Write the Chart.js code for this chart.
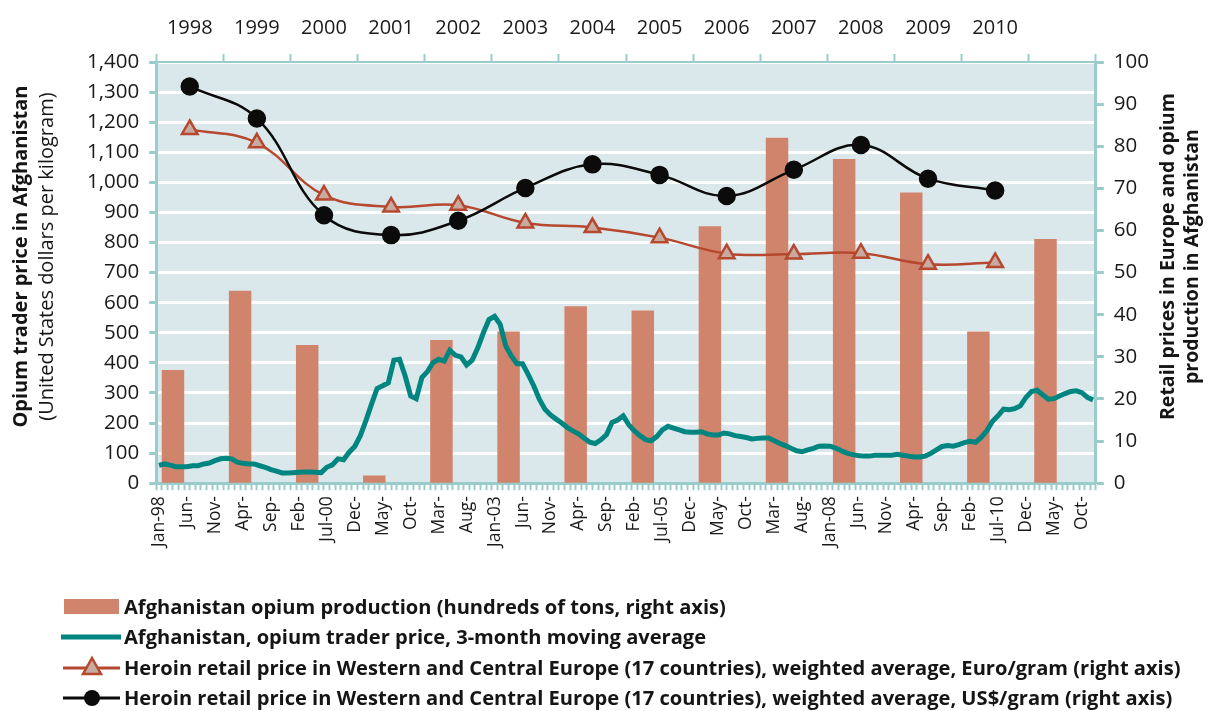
<!DOCTYPE html>
<html>
<head>
<meta charset="utf-8">
<script src="https://cdn.jsdelivr.net/npm/chart.js@4.4.1/dist/chart.umd.min.js"></script>
<style>
  html, body { margin: 0; padding: 0; background: #fff; }
  #wrap { position: relative; width: 1209px; height: 711px; }
  #legend { position: absolute; left: 60px; top: 591px; font: bold 20.1px "Open Sans", sans-serif; color: #151515; }
  .row { display: flex; align-items: center; height: 30.5px; white-space: nowrap; }
  .row svg { width: 62px; height: 26px; margin-right: 2px; flex: none; }
</style>
</head>
<body>
<div id="wrap">
  <canvas id="chart" width="1209" height="711"></canvas>
  <div id="legend">
    <div class="row"><svg viewBox="0 0 62 26"><rect x="4" y="6" width="55" height="15" fill="#d0846c"/></svg>Afghanistan opium production (hundreds of tons, right axis)</div>
    <div class="row"><svg viewBox="0 0 62 26"><line x1="1" y1="13" x2="61" y2="13" stroke="#008580" stroke-width="5"/></svg>Afghanistan, opium trader price, 3-month moving average</div>
    <div class="row"><svg viewBox="0 0 62 26"><line x1="3" y1="14" x2="60" y2="14" stroke="#b5482f" stroke-width="3"/><polygon points="32,4 41,20 23,20" fill="#c9aa9f" stroke="#b5482f" stroke-width="2.5"/></svg>Heroin retail price in Western and Central Europe (17 countries), weighted average, Euro/gram (right axis)</div>
    <div class="row"><svg viewBox="0 0 62 26"><line x1="3" y1="13" x2="60" y2="13" stroke="#0b0b0b" stroke-width="3"/><circle cx="32" cy="13" r="8" fill="#0b0b0b"/></svg>Heroin retail price in Western and Central Europe (17 countries), weighted average, US$/gram (right axis)</div>
  </div>
</div>
<script>
// yearly series (right axis)
const years = ['1998', '1999', '2000', '2001', '2002', '2003', '2004', '2005', '2006', '2007', '2008', '2009', '2010', '2011'];
const yearTickLabels = ['1998', '1999', '2000', '2001', '2002', '2003', '2004', '2005', '2006', '2007', '2008', '2009', '2010', ''];
const productionHundredTons = [26.9, 45.7, 32.8, 1.85, 34.0, 36.0, 42.0, 41.0, 61.0, 82.0, 77.0, 69.0, 36.0, 58.0];
const heroinEuroPerGram = [84.0, 80.8, 68.4, 65.6, 66.0, 61.8, 60.7, 58.3, 54.5, 54.4, 54.6, 52.0, 52.4, null];
const heroinUsdPerGram = [94.2, 86.6, 63.6, 58.9, 62.3, 70.1, 75.7, 73.2, 68.2, 74.4, 80.3, 72.3, 69.5, null];

// monthly trader price, Jan-98 .. Dec-11 (left axis)
const traderPrice = [
  59, 64, 60, 55, 55, 55, 58, 58, 64, 67, 75, 81,
  83, 81, 70, 66, 64, 64, 58, 53, 45, 40, 34, 34,
  35, 36, 37, 37, 36, 35, 53, 61, 81, 78, 103, 122,
  158, 208, 263, 315, 324, 334, 409, 412, 357, 290, 281, 351,
  371, 401, 412, 406, 442, 425, 420, 393, 409, 450, 500, 544,
  555, 528, 456, 423, 397, 397, 362, 324, 279, 246, 227, 213,
  200, 185, 174, 164, 150, 136, 132, 144, 161, 202, 210, 224,
  194, 174, 158, 145, 141, 155, 177, 189, 183, 177, 171, 169,
  169, 171, 164, 160, 160, 167, 164, 158, 155, 152, 147, 149,
  150, 150, 141, 132, 125, 116, 108, 105, 111, 116, 123, 124,
  123, 117, 108, 100, 95, 92, 90, 90, 93, 93, 93, 93,
  96, 93, 90, 87, 87, 90, 99, 111, 122, 125, 123, 128,
  135, 139, 136, 152, 174, 205, 224, 246, 244, 248, 257, 285,
  305, 309, 294, 279, 281, 290, 298, 305, 307, 301, 285, 277
];

// every 5th month is labelled
const monthTickLabels = ['Jan-98', 'Jun-', 'Nov-', 'Apr-', 'Sep-', 'Feb-', 'Jul-00', 'Dec-', 'May-', 'Oct-',
  'Mar-', 'Aug-', 'Jan-03', 'Jun-', 'Nov-', 'Apr-', 'Sep-', 'Feb-', 'Jul-05', 'Dec-', 'May-', 'Oct-',
  'Mar-', 'Aug-', 'Jan-08', 'Jun-', 'Nov-', 'Apr-', 'Sep-', 'Feb-', 'Jul-10', 'Dec-', 'May-', 'Oct-'];

const monthNames = ['Jan', 'Feb', 'Mar', 'Apr', 'May', 'Jun', 'Jul', 'Aug', 'Sep', 'Oct', 'Nov', 'Dec'];
const months = [];
years.forEach(y => monthNames.forEach(m => months.push(m + '-' + y.slice(2))));

const axisTeal = '#9acccc';

const plotBackground = {
    id: 'plotBackground',
    beforeDraw(chart) {
        const { ctx, chartArea: a } = chart;
        ctx.save();
        ctx.fillStyle = '#dae8eb';
        ctx.fillRect(a.left, a.top, a.width, a.height);
        ctx.restore();
    }
};

// left title mixes bold and regular, so both sides are drawn here
const axisTitles = {
    id: 'axisTitles',
    afterDraw(chart) {
        const { ctx, chartArea: a } = chart;
        const cy = (a.top + a.bottom) / 2 - 16;
        const put = (text, x, font) => {
            ctx.save();
            ctx.translate(x, cy);
            ctx.rotate(-Math.PI / 2);
            ctx.font = font;
            ctx.fillStyle = '#151515';
            ctx.textAlign = 'center';
            ctx.textBaseline = 'middle';
            ctx.fillText(text, 0, 0);
            ctx.restore();
        };
        put('Opium trader price in Afghanistan', 21, 'bold 20px "Open Sans"');
        put('(United States dollars per kilogram)', 47, '20px "Open Sans"');
        put('Retail prices in Europe and opium', chart.width - 41, 'bold 19.5px "Open Sans"');
        put('production in Afghanistan', chart.width - 17, 'bold 19.5px "Open Sans"');
    }
};

Chart.defaults.font.family = '"Open Sans", sans-serif';
Chart.defaults.color = '#1a1a1a';

new Chart(document.getElementById('chart').getContext('2d'), {
    type: 'bar',
    data: {
        datasets: [
            {
                type: 'line',
                label: 'Heroin retail price, US$/gram',
                data: heroinUsdPerGram,
                xAxisID: 'xYear',
                yAxisID: 'yR',
                borderColor: '#0b0b0b',
                borderWidth: 2.5,
                pointRadius: 8,
                pointBackgroundColor: '#0b0b0b',
                pointBorderColor: '#0b0b0b',
                tension: 0.4,
                order: 1
            },
            {
                type: 'line',
                label: 'Heroin retail price, Euro/gram',
                data: heroinEuroPerGram,
                xAxisID: 'xYear',
                yAxisID: 'yR',
                borderColor: '#b5482f',
                borderWidth: 2.5,
                pointStyle: 'triangle',
                pointRadius: 9,
                pointBackgroundColor: '#c9aa9f',
                pointBorderColor: '#b5482f',
                pointBorderWidth: 2.5,
                tension: 0.4,
                order: 2
            },
            {
                type: 'line',
                label: 'Opium trader price',
                data: traderPrice,
                xAxisID: 'x',
                yAxisID: 'yL',
                borderColor: '#008580',
                borderWidth: 5,
                pointRadius: 0,
                tension: 0,
                order: 3
            },
            {
                type: 'bar',
                label: 'Opium production',
                data: productionHundredTons,
                xAxisID: 'xYear',
                yAxisID: 'yR',
                backgroundColor: '#d0846c',
                barPercentage: 0.67,
                categoryPercentage: 1,
                order: 4
            }
        ]
    },
    options: {
        responsive: false,
        animation: false,
        layout: { padding: { left: 77, right: 50, top: 2, bottom: 158 } },
        plugins: { legend: { display: false }, tooltip: { enabled: false } },
        scales: {
            x: {
                type: 'category',
                labels: months,
                position: 'bottom',
                offset: true,
                grid: { offset: true, drawOnChartArea: false, tickLength: 7, tickColor: axisTeal, tickWidth: 2 },
                border: { color: axisTeal, width: 3 },
                ticks: {
                    autoSkip: false, minRotation: 90, maxRotation: 90, padding: 6,
                    font: { size: 17.5 },
                    callback: (v, i) => (i % 5 === 0 ? monthTickLabels[i / 5] : '')
                }
            },
            xYear: {
                type: 'category',
                labels: years,
                position: 'top',
                offset: true,
                grid: { offset: true, drawOnChartArea: false, tickLength: 8, tickColor: axisTeal, tickWidth: 2 },
                border: { color: axisTeal, width: 2 },
                ticks: {
                    autoSkip: false, maxRotation: 0, padding: 14,
                    font: { size: 20 },
                    callback: (v, i) => yearTickLabels[i]
                }
            },
            yL: {
                position: 'left',
                min: 0,
                max: 1400,
                grid: { color: '#ffffff', lineWidth: 3, tickLength: 7, tickColor: axisTeal, tickWidth: 3 },
                border: { color: axisTeal, width: 3 },
                ticks: { stepSize: 100, padding: 10, font: { size: 20.5 }, callback: v => v.toLocaleString('en-US') }
            },
            yR: {
                position: 'right',
                min: 0,
                max: 100,
                grid: { drawOnChartArea: false, tickLength: 8, tickColor: axisTeal, tickWidth: 3 },
                border: { color: axisTeal, width: 3 },
                ticks: { stepSize: 10, padding: 10, font: { size: 20.5 } }
            }
        }
    },
    plugins: [plotBackground, axisTitles]
});
</script>
</body>
</html>
